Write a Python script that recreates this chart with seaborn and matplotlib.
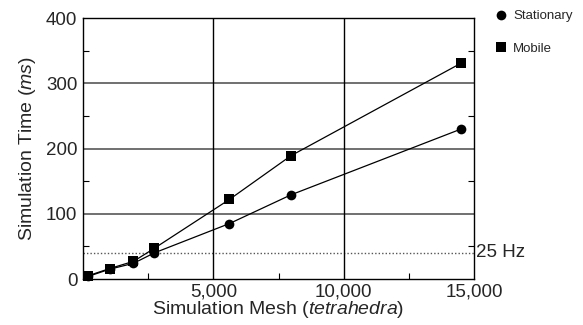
import matplotlib
matplotlib.use("Agg")
import matplotlib.pyplot as plt
import seaborn as sns
import pandas as pd
from matplotlib.ticker import FixedLocator, FuncFormatter
from matplotlib.lines import Line2D

mesh = [200, 1020, 1935, 2735, 5620, 7980, 14515]
stationary = [4, 15, 24, 40, 85, 129, 230]
mobile = [5, 16, 27, 47, 122, 189, 331]
series_names = ["Stationary", "Mobile"]
x_ticks = [5000, 10000, 15000]
y_ticks = [0, 100, 200, 300, 400]
threshold = 40
threshold_label = "25 Hz"

df = pd.DataFrame({
    "mesh": mesh * 2,
    "time": stationary + mobile,
    "series": [series_names[0]] * len(mesh) + [series_names[1]] * len(mesh),
})

sns.set_style("white")
plt.rcParams["font.family"] = ["Liberation Sans", "DejaVu Sans"]
plt.rcParams["mathtext.fontset"] = "custom"
plt.rcParams["mathtext.rm"] = "Liberation Sans"
plt.rcParams["mathtext.it"] = "Liberation Sans:italic"

fig = plt.figure(figsize=(5.83, 3.25), dpi=100)
ax = fig.add_axes([83 / 583, 1 - 279 / 325, (474 - 83) / 583, (279 - 18) / 325])

ax.axhline(threshold, color="#555555", lw=1.0, ls=(0, (1, 1.5)), zorder=1)
for yv in [100, 200, 300]:
    ax.axhline(yv, color="#707070", lw=1.4, zorder=1)
for xv in [5000, 10000]:
    ax.axvline(xv, color="black", lw=1.0, zorder=1)

sns.lineplot(data=df, x="mesh", y="time", hue="series", style="series",
             palette={"Stationary": "black", "Mobile": "black"},
             markers={"Stationary": "o", "Mobile": "s"}, dashes=False,
             markersize=7, markeredgewidth=0, linewidth=0.9, ax=ax,
             legend=False, zorder=3, clip_on=False)

ax.set_xlim(0, 15000)
ax.set_ylim(0, 400)
ax.xaxis.set_major_locator(FixedLocator(x_ticks))
ax.xaxis.set_minor_locator(FixedLocator([2500, 7500, 12500]))
ax.yaxis.set_major_locator(FixedLocator(y_ticks))
ax.yaxis.set_minor_locator(FixedLocator([50, 150, 250, 350]))
ax.xaxis.set_major_formatter(FuncFormatter(lambda v, p: f"{int(v):,}"))
ax.tick_params(axis="both", which="major", labelsize=13.5, length=3, width=1,
               direction="out", color="black", pad=1)
ax.tick_params(axis="x", which="major", length=0, pad=3)
ax.tick_params(axis="both", which="minor", length=4, width=0.8, direction="in",
               color="black")
ax.tick_params(axis="y", which="minor", right=True, left=True)
ax.tick_params(axis="x", which="minor", bottom=True)
for s in ax.spines.values():
    s.set_color("black")
    s.set_linewidth(1.0)

ax.set_xlabel("Simulation Mesh ($\\it{tetrahedra}$)", fontsize=14, labelpad=-1)
ax.set_ylabel("Simulation Time ($\\it{ms}$)", fontsize=14, labelpad=6)

ax.text(1.005, threshold, threshold_label, transform=ax.get_yaxis_transform(),
        va="center", ha="left", fontsize=13.5)

handles = [Line2D([], [], color="black", marker=m, ls="none", markersize=7,
                  markeredgewidth=0) for m in ["o", "s"]]
fig.legend(handles, series_names, loc="upper left", bbox_to_anchor=(0.836, 1.0),
           frameon=False, fontsize=9.5, handlelength=0.6, handletextpad=0.6,
           labelspacing=1.55, borderaxespad=0.35)

fig.savefig("out.png", dpi=100)
